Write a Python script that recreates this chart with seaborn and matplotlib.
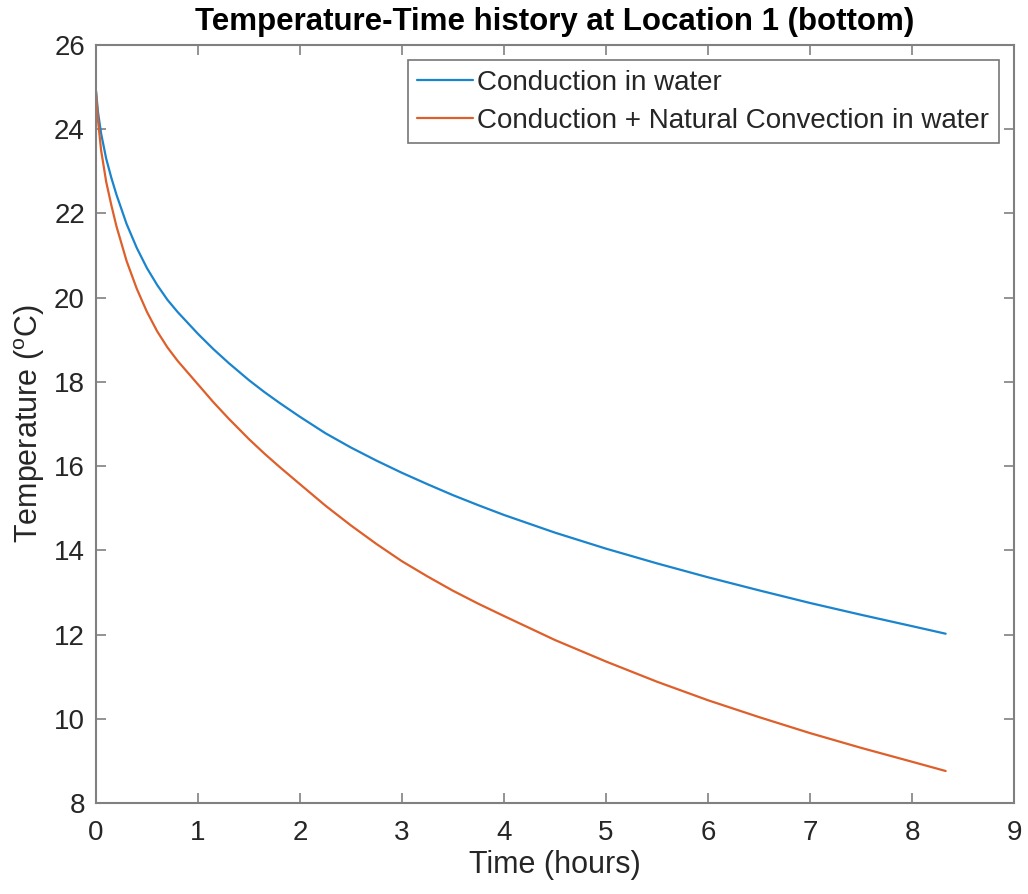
import matplotlib
matplotlib.use("Agg")
import matplotlib.pyplot as plt
import seaborn as sns
import pandas as pd

# ---- data ----
time_h = [0.0, 0.02, 0.05, 0.1, 0.15, 0.2, 0.3, 0.4, 0.5, 0.6, 0.7, 0.8, 0.9, 1.0,
          1.15, 1.3, 1.5, 1.65, 1.8, 2.0, 2.25, 2.5, 2.75, 3.0, 3.25, 3.5, 3.75, 4.0,
          4.5, 5.0, 5.5, 6.0, 6.5, 7.0, 7.5, 8.0, 8.33]
T_cond = [24.9, 24.4, 23.9, 23.3, 22.85, 22.45, 21.75, 21.18, 20.7, 20.3, 19.95, 19.66, 19.4, 19.14,
          18.78, 18.45, 18.04, 17.76, 17.5, 17.17, 16.78, 16.44, 16.13, 15.84, 15.57, 15.31, 15.07, 14.84,
          14.42, 14.04, 13.69, 13.36, 13.05, 12.75, 12.47, 12.2, 12.02]
T_conv = [24.9, 24.2, 23.5, 22.75, 22.2, 21.7, 20.87, 20.21, 19.66, 19.2, 18.82, 18.5, 18.22, 17.94,
          17.52, 17.13, 16.64, 16.3, 15.98, 15.57, 15.06, 14.59, 14.15, 13.74, 13.38, 13.04, 12.73, 12.44,
          11.87, 11.36, 10.88, 10.44, 10.04, 9.66, 9.31, 8.98, 8.76]

labels = ["Conduction in water", "Conduction + Natural Convection in water"]
colors = ["#1A84CC", "#DE5F2A"]
x_ticks = list(range(0, 10))
y_ticks = list(range(8, 27, 2))

sns.set_theme(style="white")
plt.rcParams["font.family"] = ["Liberation Sans", "DejaVu Sans"]
plt.rcParams["mathtext.fontset"] = "custom"
plt.rcParams["mathtext.rm"] = "Liberation Sans"
plt.rcParams["mathtext.it"] = "Liberation Sans:italic"

fig = plt.figure(figsize=(10.28, 8.94), dpi=100)
ax = fig.add_axes([96 / 1028, 1 - 803 / 894, (1014 - 96) / 1028, (803 - 45) / 894])

df1 = pd.DataFrame({"t": time_h, "T": T_cond})
df2 = pd.DataFrame({"t": time_h, "T": T_conv})
sns.lineplot(data=df1, x="t", y="T", ax=ax, color=colors[0], lw=1.6, label=labels[0], sort=False)
sns.lineplot(data=df2, x="t", y="T", ax=ax, color=colors[1], lw=1.6, label=labels[1], sort=False)

ax.set_xlim(0, 9)
ax.set_ylim(8, 26)
ax.set_xticks(x_ticks)
ax.set_yticks(y_ticks)

axis_col = "#808080"
text_col = "#262626"
for s in ax.spines.values():
    s.set_visible(True)
    s.set_color(axis_col)
    s.set_linewidth(1.5)
ax.tick_params(direction="in", length=7, width=1.2, color=axis_col,
               labelsize=20, labelcolor=text_col, top=True, right=True,
               bottom=True, left=True, labeltop=False, labelright=False)
ax.tick_params(axis="x", pad=12)
ax.tick_params(axis="y", pad=8)

ax.set_xlabel("Time (hours)", fontsize=22, color=text_col, labelpad=3)
ax.set_ylabel(r"Temperature ($^{\mathrm{o}}$C)", fontsize=22, color=text_col, labelpad=5)
ax.set_title("Temperature-Time history at Location 1 (bottom)", fontsize=22.5,
             fontweight="bold", color="black", pad=11)

leg = ax.legend(loc="upper right", fontsize=20, frameon=True, fancybox=False,
                handlelength=2.0, handletextpad=0.15, labelspacing=0.42,
                borderpad=0.35, borderaxespad=0.55)
leg.get_frame().set_edgecolor("#555555")
leg.get_frame().set_linewidth(1.2)
for line in leg.get_lines():
    line.set_linewidth(1.6)

fig.savefig("out.png", dpi=100, facecolor="white")
